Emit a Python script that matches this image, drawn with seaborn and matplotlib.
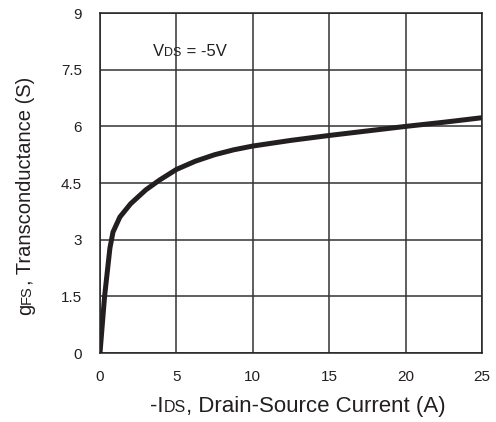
import numpy as np
import pandas as pd
import seaborn as sns
import matplotlib.pyplot as plt
import matplotlib.transforms as mtransforms

# curve
current = [0, 0.3, 0.65, 0.85, 1.3, 2.0, 3.0, 3.9, 5.0, 6.25, 7.5, 8.75, 10, 12.5, 15, 17.5, 20, 22.5, 25]
gfs = [0, 1.5, 2.78, 3.2, 3.6, 3.95, 4.32, 4.58, 4.86, 5.08, 5.25, 5.38, 5.48, 5.63, 5.76, 5.88, 6.0, 6.11, 6.23]

x_ticks = [0, 5, 10, 15, 20, 25]
y_ticks = [0, 1.5, 3, 4.5, 6, 7.5, 9]
y_tick_labels = ['0', '1.5', '3', '4.5', '6', '7.5', '9']

INK = '#231f20'


def place_parts(fig, parts, x, y, rotation=0):
    # lays pieces of text (text, size) one after another along the baseline,
    # starting at pixel (x, y), so subscripts sit on the baseline like small caps
    r = fig.canvas.get_renderer()
    widths = []
    for s, fs in parts:
        t = fig.text(0, 0, s, fontsize=fs)
        widths.append(t.get_window_extent(r).width)
        t.remove()
    ang = np.deg2rad(rotation)
    offset = 0
    for (s, fs), w in zip(parts, widths):
        fig.text(x + offset * np.cos(ang), y + offset * np.sin(ang), s, fontsize=fs,
                 rotation=rotation, rotation_mode='anchor', ha='left', va='baseline',
                 color=INK, transform=mtransforms.IdentityTransform())
        offset += w


sns.set_style('white')
plt.rcParams['font.family'] = ['Liberation Sans', 'DejaVu Sans']

fig = plt.figure(figsize=(4.96, 4.22), dpi=100)
ax = fig.add_axes([0.2016, 0.1635, 0.7704, 0.8055])

df = pd.DataFrame({'I': current, 'g': gfs})
sns.lineplot(data=df, x='I', y='g', ax=ax, color=INK, linewidth=3.6,
             solid_capstyle='butt', zorder=3)

ax.set_xlim(0, 25)
ax.set_ylim(0, 9)
ax.set_xticks(x_ticks)
ax.set_yticks(y_ticks)
ax.set_yticklabels(y_tick_labels)
ax.set_xlabel('')
ax.set_ylabel('')
ax.grid(True, color='#333333', linewidth=1.1)
ax.tick_params(length=0, labelsize=11, colors=INK)
ax.tick_params(axis='x', pad=12)
ax.tick_params(axis='y', pad=13)
for s in ax.spines.values():
    s.set_color(INK)
    s.set_linewidth(1.1)

place_parts(fig, [('-I', 16), ('DS', 11.5), (', Drain-Source Current (A)', 16)], 150, 10)
place_parts(fig, [('g', 14.5), ('FS', 10.5), (', Transconductance (S)', 14.5)], 31, 107, rotation=90)
place_parts(fig, [('V', 12), ('DS', 9), (' = -5V', 12)], 153, 366)

fig.savefig('out.png', dpi=100)
